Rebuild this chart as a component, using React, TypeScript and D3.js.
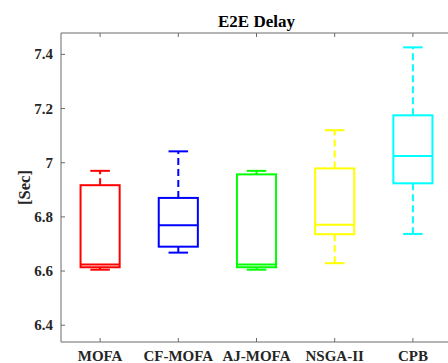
import React from "react";
import * as d3 from "d3";

const categories = ["MOFA", "CF-MOFA", "AJ-MOFA", "NSGA-II", "CPB"];
const colors = ["#ff0000", "#0000ff", "#00ff00", "#ffff00", "#00ffff"];
const whiskerLow = [6.605, 6.668, 6.605, 6.629, 6.737];
const q1 = [6.614, 6.69, 6.614, 6.736, 6.924];
const median = [6.624, 6.769, 6.624, 6.771, 7.025];
const q3 = [6.917, 6.87, 6.957, 6.979, 7.175];
const whiskerHigh = [6.97, 7.042, 6.97, 7.12, 7.426];
const yTicks = [6.4, 6.6, 6.8, 7, 7.2, 7.4];

const W = 448;
const H = 363;
const left = 61;
const top = 33;
const bottom = 342;
const right = 452;

export default function App() {
  const x = d3.scaleLinear().domain([0.5, 5.5]).range([left, right]);
  const y = d3.scaleLinear().domain([6.338, 7.479]).range([bottom, top]);
  const bw = x(1.25) - x(1);
  const cw = x(1.125) - x(1);
  const font = "'Liberation Serif', 'Times New Roman', serif";
  const axisColor = "#6b6b6b";

  return (
    <svg
      width={W}
      height={H}
      style={{ position: "absolute", left: 0, top: 0, background: "#fff" }}
    >
      <rect x={0} y={0} width={W} height={H} fill="#fff" />
      <defs>
        <clipPath id="plot">
          <rect x={left} y={top} width={right - left} height={bottom - top} />
        </clipPath>
      </defs>
      {/* axes */}
      <line x1={left} y1={top} x2={right} y2={top} stroke={axisColor} strokeWidth={1} />
      <line x1={left} y1={bottom} x2={right} y2={bottom} stroke={axisColor} strokeWidth={1} />
      <line x1={left} y1={top} x2={left} y2={bottom} stroke={axisColor} strokeWidth={1} />
      {yTicks.map((t) => (
        <g key={t}>
          <line x1={left} x2={left + 4} y1={y(t)} y2={y(t)} stroke={axisColor} />
          <text
            x={left - 8}
            y={y(t)}
            textAnchor="end"
            dominantBaseline="central"
            fontFamily={font}
            fontWeight="bold"
            fontSize={15}
            fill="#262626"
          >
            {String(t)}
          </text>
        </g>
      ))}
      {categories.map((c, i) => (
        <g key={c}>
          <line x1={x(i + 1)} x2={x(i + 1)} y1={bottom} y2={bottom - 4} stroke={axisColor} />
          <line x1={x(i + 1)} x2={x(i + 1)} y1={top} y2={top + 4} stroke={axisColor} />
          <text
            x={x(i + 1)}
            y={361}
            textAnchor="middle"
            fontFamily={font}
            fontWeight="bold"
            fontSize={15}
            fill="#262626"
          >
            {c}
          </text>
        </g>
      ))}
      <g clipPath="url(#plot)">
        {categories.map((c, i) => {
          const cx = x(i + 1);
          const col = colors[i];
          return (
            <g key={c} fill="none" stroke={col} strokeWidth={2}>
              <line x1={cx} x2={cx} y1={y(q3[i])} y2={y(whiskerHigh[i])} strokeDasharray="7,4" />
              <line x1={cx} x2={cx} y1={y(q1[i])} y2={y(whiskerLow[i])} strokeDasharray="7,4" />
              <line x1={cx - cw} x2={cx + cw} y1={y(whiskerHigh[i])} y2={y(whiskerHigh[i])} />
              <line x1={cx - cw} x2={cx + cw} y1={y(whiskerLow[i])} y2={y(whiskerLow[i])} />
              <rect x={cx - bw} width={2 * bw} y={y(q3[i])} height={y(q1[i]) - y(q3[i])} />
              <line x1={cx - bw} x2={cx + bw} y1={y(median[i])} y2={y(median[i])} />
            </g>
          );
        })}
      </g>
      <text
        x={(left + right) / 2}
        y={26.5}
        textAnchor="middle"
        fontFamily={font}
        fontWeight="bold"
        fontSize={17}
        fill="#000"
      >
        E2E Delay
      </text>
      <text
        transform={`translate(30, ${(top + bottom) / 2}) rotate(-90)`}
        textAnchor="middle"
        fontFamily={font}
        fontWeight="bold"
        fontSize={16.5}
        fill="#262626"
      >
        [Sec]
      </text>
    </svg>
  );
}
